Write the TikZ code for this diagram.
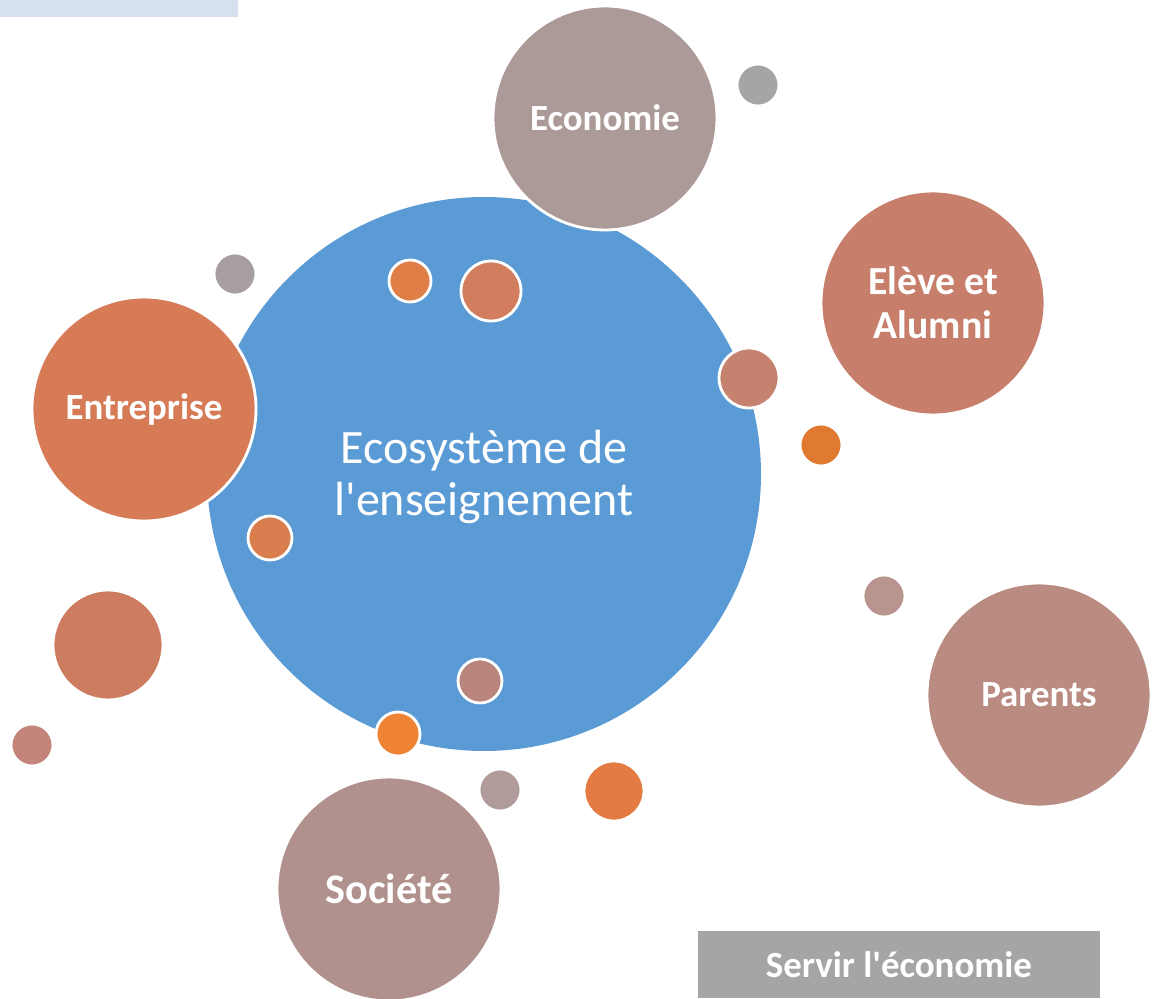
\documentclass[tikz,border=0pt]{standalone}
\usepackage{fontspec}
\setmainfont{Carlito}
\usepackage{tikz}
\usepackage[usenames]{xcolor}

\definecolor{ecoblue}{HTML}{5B9BD5}
\definecolor{paleblue}{HTML}{D6E0EE}
\definecolor{mauve}{HTML}{AC9A99}
\definecolor{rosebrown}{HTML}{C77F6B}
\definecolor{dustyrose}{HTML}{BA8B81}
\definecolor{terracotta}{HTML}{D67B56}
\definecolor{greyrose}{HTML}{B1918D}
\definecolor{midgrey}{HTML}{A5A5A5}
\definecolor{brightorange}{HTML}{EC7F35}

\begin{document}
\begin{tikzpicture}[line cap=round,line join=round,x=1.0cm,y=1.0cm,
  bubble/.style={draw=white,line width=1.6pt},
  biglbl/.style={text=white,font=\bfseries\fontsize{21}{25}\selectfont,align=center}]
\useasboundingbox (0,0) rectangle (23.2,19.96);
\fill[paleblue] (0,19.96) rectangle (4.76,19.62);
% main circle
\fill[ecoblue] (9.68,10.48) circle (5.54);
\node[text=white,font=\fontsize{27.3}{29.8}\selectfont,align=center] (centre) at (9.68,10.42) {Ecosystème de\\l\textquotesingle enseignement};
% large bubbles round it
\filldraw[bubble,fill=mauve] (12.10,17.60) circle (2.24);
\filldraw[bubble,fill=rosebrown] (18.66,13.90) circle (2.24);
\filldraw[bubble,fill=dustyrose] (20.78,6.06) circle (2.24);
\filldraw[bubble,fill=terracotta] (2.88,11.78) circle (2.24);
\filldraw[bubble,fill=greyrose] (7.78,2.18) circle (2.24);
\node[biglbl] (eco) at (12.10,17.60) {Economie};
\node[biglbl,font=\bfseries\fontsize{22.6}{25}\selectfont] (eleve) at (18.66,13.90) {Elève et\\Alumni};
\node[biglbl] (parents) at (20.78,6.06) {Parents};
\node[biglbl] (entr) at (2.88,11.78) {Entreprise};
\node[biglbl,font=\bfseries\fontsize{24}{28}\selectfont] (soc) at (7.78,2.18) {Société};
% small bubbles
\filldraw[bubble,fill=midgrey] (15.16,18.26) circle (0.42);
\filldraw[bubble,fill={rgb,255:red,197;green,131;blue,111}] (14.98,12.40) circle (0.60);
\filldraw[bubble,fill=brightorange!95!black] (16.42,11.06) circle (0.42);
\filldraw[bubble,fill={rgb,255:red,184;green,149;blue,141}] (17.68,8.04) circle (0.42);
\filldraw[bubble,fill={rgb,255:red,166;green,158;blue,159}] (4.70,14.48) circle (0.42);
\filldraw[bubble,fill={rgb,255:red,224;green,126;blue,72}] (8.20,14.34) circle (0.42);
\filldraw[bubble,fill={rgb,255:red,211;green,125;blue,95}] (9.82,14.14) circle (0.60);
\filldraw[bubble,fill={rgb,255:red,218;green,126;blue,80}] (5.40,9.20) circle (0.44);
\filldraw[bubble,fill={rgb,255:red,206;green,124;blue,96}] (2.16,7.06) circle (1.10);
\filldraw[bubble,fill={rgb,255:red,195;green,133;blue,122}] (0.64,5.06) circle (0.42);
\filldraw[bubble,fill={rgb,255:red,186;green,133;blue,124}] (9.60,6.34) circle (0.44);
\filldraw[bubble,fill={rgb,255:red,238;green,131;blue,51}] (7.96,5.28) circle (0.44);
\filldraw[bubble,fill={rgb,255:red,176;green,155;blue,154}] (10.00,4.16) circle (0.42);
\filldraw[bubble,fill={rgb,255:red,227;green,123;blue,66}] (12.28,4.14) circle (0.60);
% caption box
\fill[midgrey] (13.96,0) rectangle (22.0,1.34);
\node[biglbl] (servir) at (17.98,0.67) {Servir l\textquotesingle économie};
\end{tikzpicture}
\end{document}
